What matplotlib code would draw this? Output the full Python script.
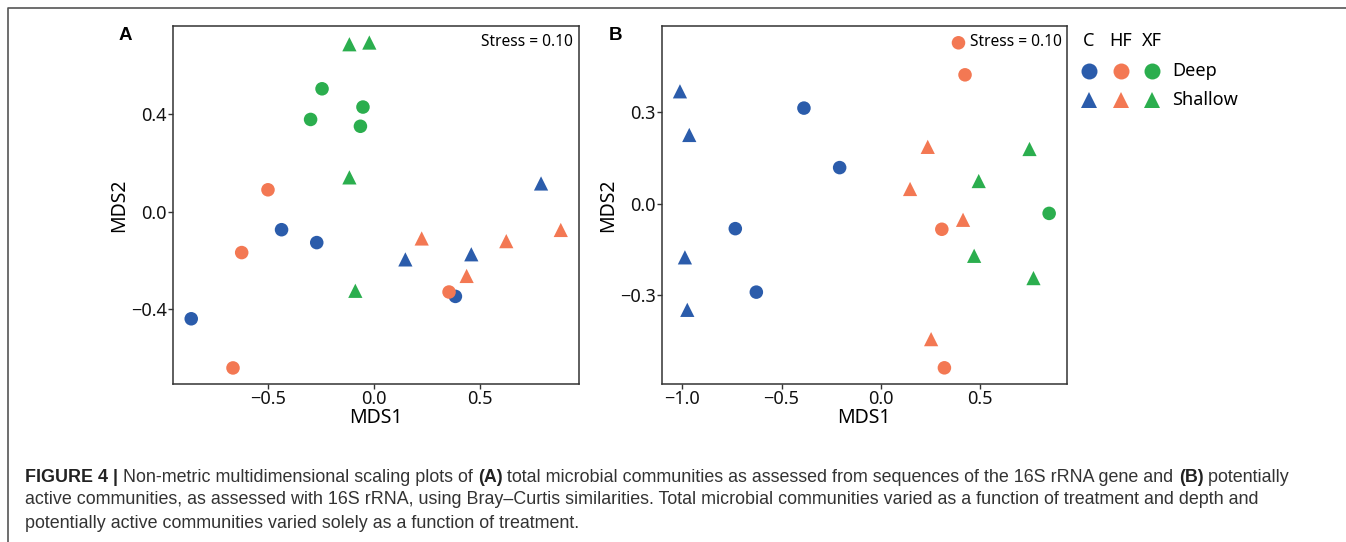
import matplotlib
matplotlib.use("Agg")
import matplotlib.pyplot as plt
from matplotlib.lines import Line2D

# ---------------- data ----------------
treatments = ["C", "HF", "XF"]
depths = ["Deep", "Shallow"]
colors = {"C": "#2b5cab", "HF": "#f37853", "XF": "#2bae4e"}
markers = {"Deep": "o", "Shallow": "^"}

# Panel A (16S rRNA gene)
A_C_deep_x = [-0.436, -0.270, -0.862, 0.384]
A_C_deep_y = [-0.074, -0.127, -0.440, -0.348]
A_C_shallow_x = [0.148, 0.459, 0.788]
A_C_shallow_y = [-0.196, -0.175, 0.116]
A_HF_deep_x = [-0.500, -0.624, -0.665, 0.354]
A_HF_deep_y = [0.090, -0.168, -0.642, -0.330]
A_HF_shallow_x = [0.225, 0.437, 0.624, 0.881]
A_HF_shallow_y = [-0.110, -0.264, -0.121, -0.075]
A_XF_deep_x = [-0.245, -0.052, -0.299, -0.064]
A_XF_deep_y = [0.505, 0.430, 0.379, 0.351]
A_XF_shallow_x = [-0.116, -0.022, -0.116, -0.088]
A_XF_shallow_y = [0.688, 0.695, 0.141, -0.325]

# Panel B (16S rRNA)
B_C_deep_x = [-0.387, -0.207, -0.733, -0.627]
B_C_deep_y = [0.313, 0.118, -0.082, -0.290]
B_C_shallow_x = [-1.012, -0.965, -0.987, -0.975]
B_C_shallow_y = [0.368, 0.225, -0.176, -0.348]
B_HF_deep_x = [0.392, 0.425, 0.308, 0.321]
B_HF_deep_y = [0.527, 0.422, -0.084, -0.538]
B_HF_shallow_x = [0.237, 0.148, 0.415, 0.254]
B_HF_shallow_y = [0.186, 0.048, -0.053, -0.444]
B_XF_deep_x = [0.849]
B_XF_deep_y = [-0.032]
B_XF_shallow_x = [0.750, 0.494, 0.471, 0.770]
B_XF_shallow_y = [0.179, 0.074, -0.171, -0.244]

panel_A = {
    ("C", "Deep"): (A_C_deep_x, A_C_deep_y),
    ("C", "Shallow"): (A_C_shallow_x, A_C_shallow_y),
    ("HF", "Deep"): (A_HF_deep_x, A_HF_deep_y),
    ("HF", "Shallow"): (A_HF_shallow_x, A_HF_shallow_y),
    ("XF", "Deep"): (A_XF_deep_x, A_XF_deep_y),
    ("XF", "Shallow"): (A_XF_shallow_x, A_XF_shallow_y),
}
panel_B = {
    ("C", "Deep"): (B_C_deep_x, B_C_deep_y),
    ("C", "Shallow"): (B_C_shallow_x, B_C_shallow_y),
    ("HF", "Deep"): (B_HF_deep_x, B_HF_deep_y),
    ("HF", "Shallow"): (B_HF_shallow_x, B_HF_shallow_y),
    ("XF", "Deep"): (B_XF_deep_x, B_XF_deep_y),
    ("XF", "Shallow"): (B_XF_shallow_x, B_XF_shallow_y),
}

A_xticks = [-0.5, 0.0, 0.5]
A_yticks = [-0.4, 0.0, 0.4]
B_xticks = [-1.0, -0.5, 0.0, 0.5]
B_yticks = [-0.3, 0.0, 0.3]
stress_A = "Stress = 0.10"
stress_B = "Stress = 0.10"

caption_lines = [
    [("FIGURE 4 | ", True), ("Non-metric multidimensional scaling plots of ", False), ("(A)", True),
     (" total microbial communities as assessed from sequences of the 16S rRNA gene and ", False),
     ("(B)", True), (" potentially", False)],
    [("active communities, as assessed with 16S rRNA, using Bray\u2013Curtis similarities. Total microbial communities varied as a function of treatment and depth and", False)],
    [("potentially active communities varied solely as a function of treatment.", False)],
]

# ---------------- figure ----------------
W, H = 1346, 542
DPI = 100
plt.rcParams["font.family"] = ["Noto Sans", "DejaVu Sans"]
fig = plt.figure(figsize=(W / DPI, H / DPI), dpi=DPI)

def px_x(x):
    return x / W

def px_y(y):
    return 1 - y / H

spine_col = "#333333"
tick_fs = 13
label_fs = 14


def make_axes(left, right, top, bottom):
    ax = fig.add_axes([px_x(left), px_y(bottom), (right - left) / W, (bottom - top) / H])
    for s in ax.spines.values():
        s.set_color(spine_col)
        s.set_linewidth(1.1)
    ax.tick_params(direction="out", length=3.5, width=1.0, color=spine_col,
                   labelsize=tick_fs, labelcolor="#111111", pad=1)
    return ax


def draw_panel(ax, data):
    for (t, d), (xs, ys) in data.items():
        ax.scatter(xs, ys, s=95 if d == "Deep" else 105, marker=markers[d],
                   color=colors[t], edgecolors="none", zorder=3)


axA = make_axes(173, 579, 26, 384)
draw_panel(axA, panel_A)
axA.set_xlim(-0.948, 0.967)
axA.set_ylim(-0.708, 0.763)
axA.set_xticks(A_xticks)
axA.set_yticks(A_yticks)
axA.set_xlabel("MDS1", fontsize=label_fs, labelpad=0)
axA.set_ylabel("MDS2", fontsize=label_fs, labelpad=1)
axA.text(0.985, 0.955, stress_A, transform=axA.transAxes, ha="right", va="center", fontsize=11.2)

axB = make_axes(661.7, 1067, 26, 384)
draw_panel(axB, panel_B)
axB.set_xlim(-1.104, 0.939)
axB.set_ylim(-0.591, 0.582)
axB.set_xticks(B_xticks)
axB.set_yticks(B_yticks)
axB.set_xlabel("MDS1", fontsize=label_fs, labelpad=0)
axB.set_ylabel("MDS2", fontsize=label_fs, labelpad=1)
axB.text(0.987, 0.955, stress_B, transform=axB.transAxes, ha="right", va="center", fontsize=11.2)

# panel letters
fig.text(px_x(125), px_y(35), "A", fontsize=13.5, fontweight="bold", ha="center", va="center",
         family=["Liberation Sans"])
fig.text(px_x(615), px_y(35), "B", fontsize=13.5, fontweight="bold", ha="center", va="center",
         family=["Liberation Sans"])

# legend (manual grid)
leg_cols = [1089, 1121, 1152]
leg_rows = {"Deep": 70.7, "Shallow": 100}
for t, cx in zip(treatments, leg_cols):
    fig.text(px_x(cx), px_y(41), t, fontsize=13, ha="center", va="center")
    for d in depths:
        fig.add_artist(Line2D([px_x(cx)], [px_y(leg_rows[d])], marker=markers[d], linestyle="none",
                              markersize=11.5 if d == "Deep" else 12, color=colors[t],
                              markeredgewidth=0, transform=fig.transFigure))
for d in depths:
    fig.text(px_x(1172), px_y(leg_rows[d]), d, fontsize=13, ha="left", va="center")

# frame lines (left and top)
fig.add_artist(Line2D([px_x(8), px_x(8), px_x(W)], [0, px_y(8), px_y(8)],
                      color="#555555", linewidth=1.2, transform=fig.transFigure))

# caption with mixed bold runs
renderer = fig.canvas.get_renderer()
cap_fs = 12.85
cap_baselines = [481.5, 504.5, 527.5]
for line, y in zip(caption_lines, cap_baselines):
    x = 25
    for txt, bold in line:
        t = fig.text(px_x(x), px_y(y), txt, fontsize=cap_fs,
                     fontweight="bold" if bold else "normal",
                     color="#222222" if bold else "#333333",
                     ha="left", va="baseline", family=["Liberation Sans"])
        bb = t.get_window_extent(renderer=renderer)
        x += bb.width

fig.savefig("out.png", dpi=DPI)
